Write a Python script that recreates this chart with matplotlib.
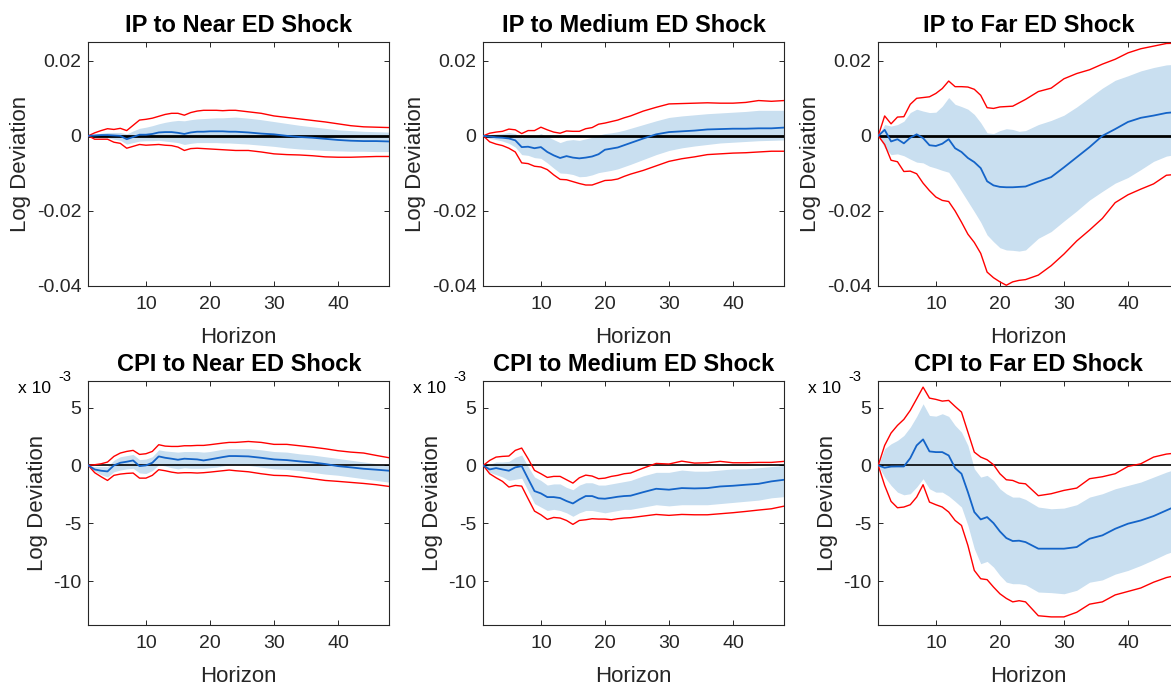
import numpy as np
import matplotlib.pyplot as plt

plt.rcParams['font.family'] = ['Liberation Sans', 'DejaVu Sans']

# Horizons (months)
horizon = list(range(1, 25)) + list(range(26, 49, 2))

# IP responses, in units of 1e-3 log deviation
ip_near_mid = [0, 0.1, 0.2, 0.2, 0.1, 0, -0.9, -0.3, 0.3, 0.3, 0.5, 0.9, 1.0, 1.0, 0.8, 0.5, 0.9, 1.1, 1.1, 1.2, 1.2, 1.2, 1.1, 1.1,
               0.9, 0.6, 0.4, 0.0, -0.3, -0.5, -0.8, -1.1, -1.3, -1.4, -1.4, -1.5]
ip_near_hi90 = [0, 0.8, 1.4, 1.9, 1.7, 2.0, 1.4, 2.8, 4.2, 4.4, 4.7, 5.2, 5.7, 6.0, 6.0, 5.5, 6.2, 6.6, 6.8, 6.8, 6.8, 6.7, 6.8, 6.8,
                6.4, 6.0, 5.3, 4.9, 4.5, 4.1, 3.7, 3.2, 2.7, 2.4, 2.3, 2.2]
ip_near_lo90 = [0, -0.9, -0.9, -0.9, -1.7, -2.0, -3.3, -2.8, -2.3, -2.5, -2.4, -2.3, -2.5, -2.6, -3.0, -3.9, -3.4, -3.3, -3.4, -3.5, -3.6, -3.7, -3.8, -3.9,
                -3.9, -4.3, -4.8, -5.0, -5.1, -5.3, -5.6, -5.7, -5.7, -5.6, -5.5, -5.5]
ip_near_hi68 = [0, 0.4, 0.7, 0.9, 0.9, 0.9, 0.5, 1.3, 2.0, 2.3, 2.7, 3.2, 3.6, 3.9, 4.1, 4.0, 4.3, 4.5, 4.6, 4.7, 4.8, 4.8, 4.9, 5.0,
                4.7, 4.3, 3.8, 3.3, 2.8, 2.4, 2.0, 1.6, 1.4, 1.2, 1.1, 1.0]
ip_near_lo68 = [0, -0.4, -0.5, -0.5, -0.9, -1.2, -2.2, -1.8, -1.4, -1.3, -1.3, -1.2, -1.4, -1.6, -1.8, -2.3, -2.0, -1.8, -1.8, -1.8, -1.8, -1.9, -1.9, -2.0,
                -2.2, -2.5, -2.8, -3.2, -3.5, -3.7, -3.9, -4.0, -4.1, -4.1, -4.2, -4.2]

ip_med_mid = [0, -0.2, -0.4, -0.5, -0.7, -1.2, -3.0, -2.9, -3.3, -3.0, -4.3, -5.2, -5.9, -5.4, -5.8, -6.0, -5.8, -5.5, -4.9, -3.7, -3.4, -3.1, -2.5, -1.9,
              -0.7, 0.4, 1.0, 1.2, 1.4, 1.7, 1.8, 1.9, 1.9, 2.0, 2.0, 2.2]
ip_med_hi90 = [0, 0.7, 1.0, 1.2, 1.8, 1.6, 0.6, 1.4, 1.4, 2.3, 1.6, 1.0, 0.7, 1.3, 1.2, 1.2, 1.9, 2.2, 3.1, 3.4, 3.8, 4.2, 4.8, 5.3,
               6.6, 7.6, 8.5, 8.6, 8.7, 8.8, 8.7, 8.7, 8.9, 9.4, 9.2, 9.4]
ip_med_lo90 = [0, -1.6, -2.2, -2.6, -3.3, -4.3, -7.2, -7.4, -8.1, -8.3, -9.0, -10.4, -11.6, -11.7, -12.2, -12.7, -13.1, -13.1, -12.5, -11.9, -11.8, -11.5, -10.8, -10.2,
               -9.2, -8.0, -6.8, -6.1, -5.6, -5.0, -4.8, -4.6, -4.5, -4.3, -4.1, -4.1]
ip_med_hi68 = [0, 0.3, 0.5, 0.6, 0.9, 0.6, -0.6, 0.2, -0.1, 0.6, -0.2, -1.0, -1.8, -1.2, -1.0, -1.2, -0.8, -0.4, 0.2, 0.6, 0.8, 1.1, 1.5, 2.0,
               3.0, 4.0, 4.9, 5.3, 5.6, 5.9, 6.1, 6.3, 6.5, 6.8, 6.8, 6.8]
ip_med_lo68 = [0, -0.7, -1.0, -1.4, -2.0, -3.0, -5.0, -5.2, -5.8, -6.0, -7.2, -8.6, -9.9, -10.0, -10.3, -10.9, -10.8, -10.4, -9.8, -9.5, -9.2, -8.8, -8.2, -7.6,
               -6.3, -5.0, -3.9, -3.2, -2.7, -2.3, -1.9, -1.7, -1.5, -1.3, -1.2, -1.1]

ip_far_mid = [0, 1.6, -1.5, -0.9, -2.0, -0.5, 0.4, -0.6, -2.5, -2.7, -2.1, -0.9, -3.3, -4.3, -5.9, -7.0, -8.6, -12.1, -13.2, -13.6, -13.7, -13.7, -13.6, -13.5,
              -12.2, -11.0, -8.4, -5.7, -3.0, 0.0, 1.8, 3.7, 4.8, 5.4, 6.1, 6.4]
ip_far_hi90 = [0, 5.3, 3.2, 5.0, 5.1, 8.4, 10.0, 10.2, 10.4, 11.3, 12.6, 14.6, 13.1, 13.1, 13.0, 12.4, 10.8, 7.5, 7.3, 7.7, 7.8, 7.9, 8.8, 9.7,
               11.8, 12.7, 15.2, 16.6, 17.6, 19.1, 20.4, 22.1, 23.2, 23.9, 24.6, 24.7]
ip_far_lo90 = [0, -2.3, -6.5, -6.9, -9.5, -9.4, -10.1, -12.6, -14.6, -16.3, -17.2, -17.5, -20.0, -23.0, -26.2, -28.4, -31.3, -36.3, -37.8, -38.9, -39.8, -38.9, -38.5, -38.3,
               -37.1, -34.6, -31.5, -28.0, -25.1, -22.0, -17.8, -15.7, -14.2, -12.8, -10.5, -10.2]
ip_far_hi68 = [0, 3.0, 2.6, 3.0, 3.9, 6.2, 7.1, 6.6, 6.2, 6.3, 7.9, 10.2, 8.4, 7.8, 7.1, 5.7, 3.5, 0.8, 0.6, 1.4, 1.9, 1.7, 1.2, 1.4,
               3.0, 4.1, 5.5, 7.7, 10.2, 12.7, 14.8, 16.0, 17.3, 18.2, 18.9, 19.1]
ip_far_lo68 = [0, -3.2, -5.0, -4.8, -5.3, -6.2, -7.0, -7.2, -8.1, -8.6, -9.2, -9.7, -12.1, -14.8, -17.5, -20.2, -23.0, -26.4, -28.2, -29.8, -30.4, -30.5, -30.7, -30.4,
               -27.3, -25.5, -22.7, -20.0, -17.1, -14.8, -12.6, -11.1, -9.0, -6.8, -5.4, -4.8]

# CPI responses, in units of 1e-3 log deviation (axis shows x 10^-3)
cpi_near_mid = [0, -0.35, -0.46, -0.52, 0.0, 0.23, 0.32, 0.43, -0.06, 0.0, 0.23, 0.78, 0.66, 0.58, 0.49, 0.58, 0.55, 0.52, 0.43, 0.52, 0.62, 0.72, 0.81, 0.81,
                0.78, 0.66, 0.52, 0.46, 0.35, 0.26, 0.12, -0.06, -0.17, -0.29, -0.37, -0.46]
cpi_near_hi90 = [0, 0.06, 0.14, 0.29, 0.78, 1.07, 1.21, 1.30, 0.95, 1.01, 1.21, 1.79, 1.67, 1.64, 1.64, 1.70, 1.70, 1.73, 1.73, 1.79, 1.86, 1.93, 1.99, 1.99,
                 2.07, 1.99, 1.82, 1.82, 1.70, 1.58, 1.44, 1.27, 1.15, 1.07, 0.86, 0.66]
cpi_near_lo90 = [0, -0.63, -0.98, -1.30, -0.86, -0.75, -0.69, -0.66, -1.10, -1.10, -0.86, -0.37, -0.46, -0.58, -0.66, -0.63, -0.63, -0.66, -0.63, -0.58, -0.52, -0.46, -0.40, -0.46,
                 -0.55, -0.72, -0.86, -0.89, -1.01, -1.15, -1.30, -1.38, -1.47, -1.56, -1.67, -1.82]
cpi_near_hi68 = [0, -0.1, -0.1, -0.1, 0.45, 0.75, 0.85, 0.95, 0.5, 0.55, 0.75, 1.35, 1.25, 1.2, 1.15, 1.2, 1.2, 1.2, 1.15, 1.2, 1.3, 1.4, 1.45, 1.45,
                 1.45, 1.35, 1.2, 1.15, 1.0, 0.9, 0.75, 0.6, 0.45, 0.3, 0.15, 0.0]
cpi_near_lo68 = [0, -0.5, -0.8, -1.0, -0.55, -0.4, -0.3, -0.25, -0.65, -0.7, -0.45, 0.05, -0.05, -0.2, -0.3, -0.2, -0.25, -0.25, -0.25, -0.2, -0.15, -0.05, 0.05, 0.05,
                 0.0, -0.15, -0.3, -0.35, -0.45, -0.6, -0.75, -0.85, -1.0, -1.15, -1.3, -1.45]

cpi_med_mid = [0, -0.35, -0.23, -0.35, -0.46, -0.17, -0.06, -1.15, -2.22, -2.42, -2.74, -2.74, -2.82, -3.08, -3.29, -2.94, -2.65, -2.65, -2.85, -2.88, -2.80, -2.71, -2.65, -2.62,
               -2.31, -2.02, -2.10, -1.96, -1.99, -1.96, -1.82, -1.76, -1.67, -1.59, -1.38, -1.24]
cpi_med_hi90 = [0, 0.43, 0.72, 0.78, 0.81, 1.30, 1.50, 0.58, -0.43, -0.72, -1.04, -0.95, -0.95, -1.24, -1.53, -1.07, -0.84, -0.92, -1.15, -1.10, -0.95, -0.86, -0.72, -0.66,
                -0.23, 0.17, 0.12, 0.37, 0.20, 0.23, 0.35, 0.23, 0.23, 0.26, 0.26, 0.35]
cpi_med_lo90 = [0, -0.72, -1.07, -1.38, -1.87, -1.73, -1.79, -2.88, -3.95, -4.27, -4.67, -4.50, -4.55, -4.76, -5.10, -4.76, -4.70, -4.61, -4.64, -4.64, -4.70, -4.61, -4.55, -4.52,
                -4.38, -4.24, -4.32, -4.24, -4.27, -4.27, -4.18, -4.09, -3.98, -3.86, -3.75, -3.52]
cpi_med_hi68 = [0, 0.1, 0.3, 0.3, 0.35, 0.7, 0.9, -0.1, -1.0, -1.3, -1.7, -1.6, -1.6, -1.9, -2.1, -1.7, -1.5, -1.5, -1.7, -1.7, -1.6, -1.5, -1.4, -1.3,
                -0.9, -0.6, -0.6, -0.4, -0.5, -0.5, -0.4, -0.3, -0.3, -0.2, -0.1, 0.0]
cpi_med_lo68 = [0, -0.6, -0.8, -1.0, -1.3, -1.2, -1.1, -2.2, -3.3, -3.6, -3.9, -3.8, -3.9, -4.1, -4.4, -4.1, -3.9, -3.9, -4.0, -4.1, -4.0, -3.9, -3.8, -3.8,
                -3.6, -3.4, -3.5, -3.4, -3.4, -3.4, -3.3, -3.2, -3.1, -3.0, -2.8, -2.7]

cpi_far_mid = [0, -0.2, -0.1, -0.09, -0.09, 0.63, 1.73, 2.25, 1.21, 1.15, 1.15, 0.86, -0.23, -0.72, -2.31, -4.03, -4.67, -4.47, -4.99, -5.71, -6.28, -6.54, -6.51, -6.63,
               -7.20, -7.20, -7.20, -7.06, -6.34, -6.05, -5.48, -5.04, -4.76, -4.38, -3.89, -3.40]
cpi_far_hi90 = [0, 1.73, 2.80, 3.46, 3.98, 4.76, 5.76, 6.77, 5.82, 5.71, 5.56, 5.62, 5.10, 4.61, 2.88, 1.15, 0.72, 0.49, 0.06, -0.72, -1.24, -1.30, -1.53, -1.59,
                -2.62, -2.45, -2.16, -1.96, -1.15, -0.98, -0.72, -0.09, 0.14, 0.72, 0.98, 1.10]
cpi_far_lo90 = [0, -1.73, -3.11, -3.66, -3.60, -3.40, -2.74, -1.67, -3.17, -3.40, -3.60, -4.03, -4.76, -5.19, -6.92, -9.08, -9.80, -9.88, -10.52, -11.1, -11.5, -11.8, -11.7, -11.8,
                -13.0, -13.1, -13.1, -12.7, -12.0, -11.8, -11.2, -10.9, -10.6, -10.1, -9.7, -9.45]
cpi_far_hi68 = [0, 1.44, 1.87, 2.16, 2.59, 3.31, 4.24, 5.33, 4.32, 4.26, 4.47, 4.24, 3.46, 2.88, 1.73, -0.29, -1.01, -0.86, -1.30, -2.02, -2.45, -2.74, -2.74, -2.94,
                -3.60, -3.75, -3.69, -3.40, -2.74, -2.45, -2.02, -1.73, -1.44, -1.01, -0.58, -0.23]
cpi_far_lo68 = [0, -1.0, -1.73, -2.31, -2.54, -2.45, -1.87, -1.15, -2.02, -2.31, -2.31, -2.65, -3.11, -3.60, -5.19, -7.20, -8.50, -8.30, -8.79, -9.51, -10.09, -10.23, -10.23, -10.32,
                -10.95, -11.0, -11.1, -10.8, -10.1, -9.9, -9.4, -9.08, -8.65, -8.16, -7.64, -7.26]

titles = ['IP to Near ED Shock', 'IP to Medium ED Shock', 'IP to Far ED Shock',
          'CPI to Near ED Shock', 'CPI to Medium ED Shock', 'CPI to Far ED Shock']
ip_yticks = [-0.04, -0.02, 0, 0.02]
ip_yticklabels = ['-0.04', '-0.02', '0', '0.02']
cpi_yticks = [-10, -5, 0, 5]
cpi_yticklabels = ['-10', '-5', '0', '5']
xticks = [10, 20, 30, 40]

panels = [
    (ip_near_mid, ip_near_lo68, ip_near_hi68, ip_near_lo90, ip_near_hi90),
    (ip_med_mid, ip_med_lo68, ip_med_hi68, ip_med_lo90, ip_med_hi90),
    (ip_far_mid, ip_far_lo68, ip_far_hi68, ip_far_lo90, ip_far_hi90),
    (cpi_near_mid, cpi_near_lo68, cpi_near_hi68, cpi_near_lo90, cpi_near_hi90),
    (cpi_med_mid, cpi_med_lo68, cpi_med_hi68, cpi_med_lo90, cpi_med_hi90),
    (cpi_far_mid, cpi_far_lo68, cpi_far_hi68, cpi_far_lo90, cpi_far_hi90),
]

fig = plt.figure(figsize=(11.71, 6.85), dpi=100)

# the right column runs past the figure edge, as in the original export
lefts = [0.0754, 0.4127, 0.75]
bottoms = [0.5825, 0.0876]
w, hgt = 0.257, 0.3562
shade_col = '#c9dff0'
blue_col = '#1464c8'
axis_col = '#262626'

for k, (mid, lo68, hi68, lo90, hi90) in enumerate(panels):
    row, col = divmod(k, 3)
    ax = fig.add_axes([lefts[col], bottoms[row], w, hgt])
    scale = 1e-3 if row == 0 else 1.0
    h = np.array(horizon)
    ax.fill_between(h, np.array(lo68) * scale, np.array(hi68) * scale,
                    color=shade_col, linewidth=0)
    ax.axhline(0, color='black', lw=2.0 if row == 0 else 1.2, zorder=2)
    ax.plot(h, np.array(hi90) * scale, color='red', lw=1.0, zorder=3)
    ax.plot(h, np.array(lo90) * scale, color='red', lw=1.0, zorder=3)
    ax.plot(h, np.array(mid) * scale, color=blue_col, lw=1.3, zorder=4)

    ax.set_xlim(1, 48)
    ax.set_xticks(xticks)
    if row == 0:
        ax.set_ylim(-0.04, 0.025)
        ax.set_yticks(ip_yticks)
        ax.set_yticklabels(ip_yticklabels)
    else:
        ax.set_ylim(-13.8, 7.3)
        ax.set_yticks(cpi_yticks)
        ax.set_yticklabels(cpi_yticklabels)
        ax.text(-0.233, 1.0, 'x 10', transform=ax.transAxes, fontsize=12.5,
                color='black', ha='left', va='top')
        ax.text(-0.10, 1.045, '-3', transform=ax.transAxes, fontsize=10.5,
                color='black', ha='left', va='top')

    ax.set_title(titles[k], fontsize=17, fontweight='bold', pad=7)
    ax.set_xlabel('Horizon', fontsize=16, color=axis_col, labelpad=10)
    ax.set_ylabel('Log Deviation', fontsize=16, color=axis_col, labelpad=4)
    ax.tick_params(direction='in', length=3.5, width=0.7, colors=axis_col,
                   labelsize=14, top=True, right=True)
    ax.tick_params(axis='x', pad=7)
    ax.tick_params(axis='y', pad=5)
    for s in ax.spines.values():
        s.set_color(axis_col)
        s.set_linewidth(0.8)

fig.savefig('out.png', dpi=100)
